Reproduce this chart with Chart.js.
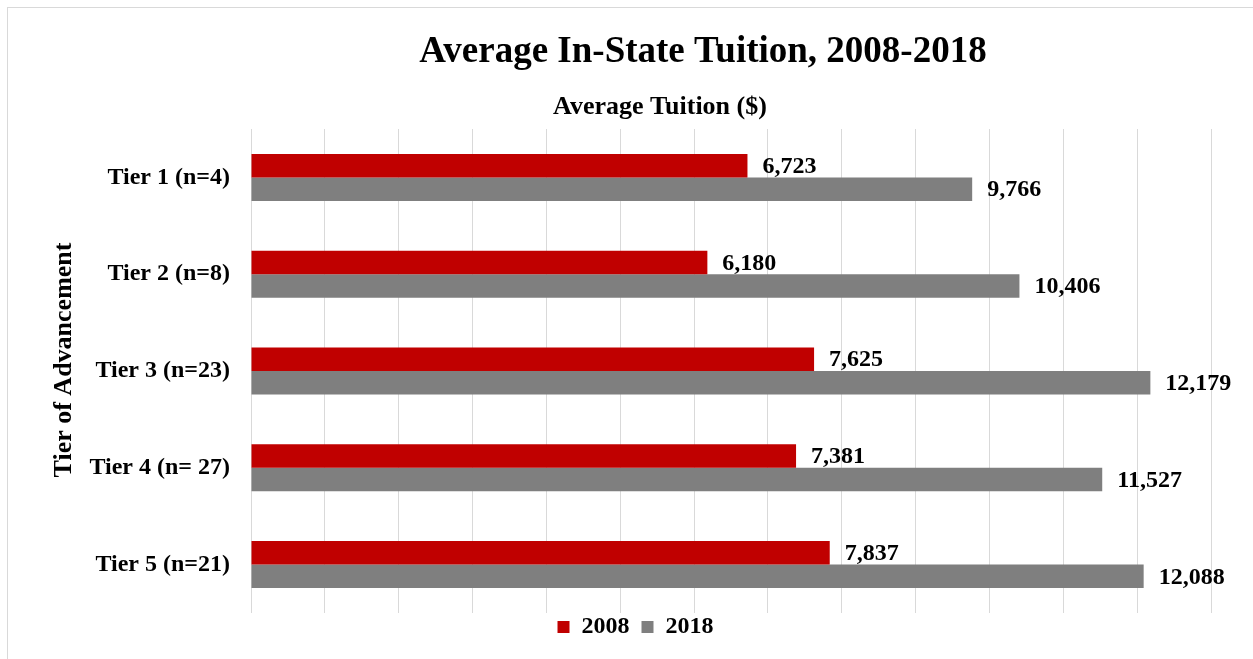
<!DOCTYPE html>
<html>
<head>
<meta charset="utf-8">
<script src="https://cdn.jsdelivr.net/npm/chart.js@4.4.1/dist/chart.umd.min.js"></script>
<style>
  html, body { margin: 0; padding: 0; background: #fff; overflow: hidden; }
  #frame { position: absolute; left: 7px; top: 7px; width: 1260px; height: 670px; border: 1px solid #d9d9d9; box-sizing: border-box; }
  #wrap { position: absolute; left: 0; top: 0; width: 1253px; height: 659px; }
</style>
</head>
<body>
<div id="frame"></div>
<div id="wrap"><canvas id="c" width="1253" height="659"></canvas></div>
<script>
const categories = ["Tier 1 (n=4)", "Tier 2 (n=8)", "Tier 3 (n=23)", "Tier 4 (n= 27)", "Tier 5 (n=21)"];
const series2008 = [6723, 6180, 7625, 7381, 7837];
const series2018 = [9766, 10406, 12179, 11527, 12088];
const seriesNames = ["2008", "2018"];
const chartTitle = "Average In-State Tuition, 2008-2018";
const xAxisTitle = "Average Tuition ($)";
const yAxisTitle = "Tier of Advancement";

const FONT = "'Liberation Serif', 'Times New Roman', serif";

const titlesPlugin = {
  id: 'titles',
  afterLayout(chart) {
    // nudge legend up so it sits just under the plot area
    if (chart.legend) { chart.legend.top -= 10; chart.legend.bottom -= 10; }
  },
  afterDraw(chart) {
    const ctx = chart.ctx;
    ctx.save();
    ctx.fillStyle = '#000';
    ctx.textAlign = 'center';
    ctx.textBaseline = 'middle';
    ctx.font = "bold 37px " + FONT;
    ctx.fillText(chartTitle, 703, 52);
    ctx.font = "bold 26px " + FONT;
    ctx.fillText(xAxisTitle, 660, 107);
    ctx.translate(64, 360);
    ctx.rotate(-Math.PI / 2);
    ctx.fillText(yAxisTitle, 0, 0);
    ctx.restore();
  }
};

const labelsPlugin = {
  id: 'barLabels',
  afterDatasetsDraw(chart) {
    const ctx = chart.ctx;
    ctx.save();
    ctx.fillStyle = '#000';
    ctx.textAlign = 'left';
    ctx.textBaseline = 'middle';
    ctx.font = "bold 24px " + FONT;
    chart.data.datasets.forEach((ds, di) => {
      const meta = chart.getDatasetMeta(di);
      meta.data.forEach((el, i) => {
        const v = ds.data[i];
        ctx.fillText(v.toLocaleString('en-US'), el.x + 15, el.y + 1);
      });
    });
    ctx.restore();
  }
};

new Chart(document.getElementById('c'), {
  type: 'bar',
  data: {
    labels: categories,
    datasets: [
      { label: seriesNames[0], data: series2008, backgroundColor: '#C00000', borderWidth: 0 },
      { label: seriesNames[1], data: series2018, backgroundColor: '#7F7F7F', borderWidth: 0 }
    ]
  },
  options: {
    indexAxis: 'y',
    responsive: false,
    animation: false,
    devicePixelRatio: 1,
    categoryPercentage: 0.486,
    barPercentage: 1.0,
    layout: { padding: { left: 60, right: 42, top: 129, bottom: 0 } },
    plugins: {
      title: { display: false },
      tooltip: { enabled: false },
      legend: {
        position: 'bottom',
        labels: {
          boxWidth: 12, boxHeight: 12, padding: 12,
          color: '#000',
          font: { family: FONT, size: 24, weight: 'bold' }
        }
      }
    },
    scales: {
      x: {
        position: 'top',
        min: 0, max: 13000,
        ticks: { display: false, stepSize: 1000 },
        grid: { color: '#d9d9d9', lineWidth: 1, drawTicks: false },
        border: { display: false },
        title: { display: false },
        afterFit(scale) { scale.height = 0; }
      },
      y: {
        grid: { display: false, drawTicks: false },
        border: { display: false },
        ticks: { color: '#000', padding: 21, font: { family: FONT, size: 24, weight: 'bold' } },
        title: { display: false },
        afterFit(scale) { scale.width = 191; }
      }
    }
  },
  plugins: [titlesPlugin, labelsPlugin]
});
</script>
</body>
</html>
